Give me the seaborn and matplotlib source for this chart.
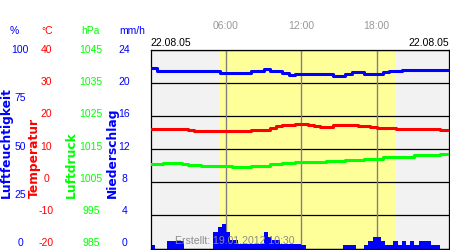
import numpy as np
import pandas as pd
import matplotlib
matplotlib.use("Agg")
import matplotlib.pyplot as plt
import matplotlib.transforms as mtransforms
import seaborn as sns

# ---------------- data ----------------
date_label = "22.08.05"
created_label = "Erstellt: 19.01.2012 10:30"
hour_ticks = [6, 12, 18]
hour_labels = ["06:00", "12:00", "18:00"]
sunrise_h = 5.47
sunset_h = 19.46

# half-hourly values (00:00 ... 23:30)
humidity = [90.9] + [89.5] * 10 + [88.5] * 5 + [89.5] * 2 + [90.6] + [89.5] * 2 + \
    [88.5, 87.2] + [87.9] * 6 + [86.9] * 2 + [87.9] + [88.7] * 2 + [87.9] * 3 + \
    [88.7] + [89.4] * 2 + [89.7] * 8
temperature = [16.1] * 6 + [15.8] + [15.45] * 9 + [15.8] * 3 + [16.5, 16.9] + \
    [17.2] * 2 + [17.6] * 2 + [17.3, 17.0] + [16.8] * 2 + [17.3] * 2 + [17.2] * 2 + \
    [16.9] * 2 + [16.6] + [16.3] * 3 + [16.0] * 7 + [15.8] * 2
pressure = [1010.5] * 2 + [1010.7] * 3 + [1010.4] + [1010.15] * 2 + [1009.9] * 3 + \
    [1009.85] * 2 + [1009.6] * 3 + [1009.9] * 3 + [1010.4] * 2 + [1010.7, 1010.9] + \
    [1011.0] * 5 + [1011.3] * 2 + [1011.4] + [1011.8] * 3 + [1012.2] * 3 + \
    [1012.6] * 2 + [1012.8] * 3 + [1013.2] * 4 + [1013.5] * 2
# 20-minute precipitation (mm/h)
precip = [0.45] + [0] * 3 + [0.85] * 4 + [0] * 7 + [2.0, 2.6, 3.0, 2.0] + [1.0] * 2 + \
    [0.6] * 6 + [2.0, 1.45] + [1.0] * 2 + [0.6] * 5 + [0.4] + [0] * 9 + [0.4] * 3 + \
    [0] * 2 + [0.4, 0.85] + [1.45] * 2 + [0.85] + [0.4] * 2 + \
    [0.85, 0.4, 0.85, 0.4, 0.85, 0.4] + [0.85] * 3 + [0.4] * 2 + [0] * 3

hum_ticks = [100, 75, 50, 25, 0]
temp_ticks = [40, 30, 20, 10, 0, -10, -20]
pres_ticks = [1045, 1035, 1025, 1015, 1005, 995, 985]
prec_ticks = [24, 20, 16, 12, 8, 4, 0]

BLUE, RED, GREEN = "#0000ff", "#ff0000", "#00ff00"
FONT = ["Liberation Sans", "DejaVu Sans"]

# ---------------- figure ----------------
sns.set_style("white")
plt.rcParams["font.family"] = FONT
W, H = 450, 250
fig = plt.figure(figsize=(W / 100, H / 100), dpi=100, facecolor="white")

def fx(px):
    return px / W

def fy(py):
    return 1 - py / H

rect = [fx(150.5), fy(248.5), (449 - 150.5) / W, (248.5 - 50) / H]
ax = fig.add_axes(rect)
ax.set_facecolor("#f2f2f2")
xmax = 23.75
ax.axvspan(sunrise_h, sunset_h, color="#ffff99", lw=0, zorder=0.5)

t_half = np.arange(len(humidity)) * 0.5
t_ext = np.append(t_half, 24.0)
t_prec = np.arange(len(precip)) / 3.0
prec_df = pd.DataFrame({"t": t_prec + 1 / 6, "mm": precip})

# precipitation bars
sns.histplot(data=prec_df, x="t", weights="mm", binwidth=1 / 3, binrange=(0, 24),
             ax=ax, color=BLUE, alpha=1, linewidth=0, element="bars", zorder=3)
ax.set_xlim(0, xmax)
ax.set_ylim(0, 24)
ax.set_yticks(range(0, 25, 4))
ax.yaxis.grid(True, color="black", lw=0.9, zorder=1)
ax.set_axisbelow(True)
ax.set_ylabel("")
ax.set_xlabel("")
ax.tick_params(axis="y", length=0, labelleft=False)
for v in hour_ticks:
    ax.axvline(v, color="#808080", lw=1, zorder=2)
ax.set_xticks(hour_ticks)
ax.set_xticklabels(hour_labels)
ax.tick_params(axis="x", length=0, top=True, bottom=False, labeltop=True,
               labelbottom=False, pad=14, labelsize=7.5, labelcolor="#999999")
for s in ax.spines.values():
    s.set_color("black")
    s.set_linewidth(0.9)
    s.set_zorder(6)

def overlay(ylim):
    a = fig.add_axes(rect, sharex=ax)
    a.patch.set_visible(False)
    a.set_ylim(*ylim)
    a.set_axis_off()
    return a

ax_h = overlay((0, 100))
ax_t = overlay((-20, 40))
ax_p = overlay((985, 1045))
for a, vals, col in [(ax_p, pressure, GREEN), (ax_t, temperature, RED), (ax_h, humidity, BLUE)]:
    sns.lineplot(x=t_ext, y=vals + [vals[-1]], ax=a, color=col, lw=2.2,
                 drawstyle="steps-post", zorder=4)
    a.set_xlim(0, xmax)

# date labels
fig.text(fx(150.5), fy(43), date_label, ha="left", va="center", fontsize=7.5, color="black")
fig.text(fx(449), fy(43), date_label, ha="right", va="center", fontsize=7.5, color="black")
fig.text(fx(175), fy(241.5), created_label, ha="left", va="center", fontsize=7.6,
         color="#8c8c8c", zorder=10)

# left label columns
lab_rect = [0, fy(243), fx(150), (243 - 50) / H]
cols = [
    (hum_ticks, (0, 100), 20, BLUE),
    (temp_ticks, (-20, 40), 46.5, RED),
    (pres_ticks, (985, 1045), 91, GREEN),
    (prec_ticks, (0, 24), 124.5, BLUE),
]
for ticks, lim, cx, col in cols:
    la = fig.add_axes(lab_rect)
    la.set_axis_off()
    la.set_ylim(*lim)
    tr = mtransforms.blended_transform_factory(fig.transFigure, la.transData)
    for v in ticks:
        la.text(fx(cx), v, str(v), transform=tr, ha="center", va="center",
                fontsize=7.5, color=col)

for txt, cx, col in [("%", 14, BLUE), ("°C", 47, RED), ("hPa", 90, GREEN), ("mm/h", 132, BLUE)]:
    fig.text(fx(cx), fy(31), txt, ha="center", va="center", fontsize=7.5, color=col)

for txt, cx, col in [("Luftfeuchtigkeit", 6, BLUE), ("Temperatur", 34, RED),
                     ("Luftdruck", 71, GREEN), ("Niederschlag", 112, BLUE)]:
    fig.text(fx(cx), fy(198), txt, rotation=90, ha="center", va="bottom",
             fontsize=8.8, fontweight="bold", color=col, family=["DejaVu Sans"])

fig.savefig("out.png", dpi=100, facecolor="white")
